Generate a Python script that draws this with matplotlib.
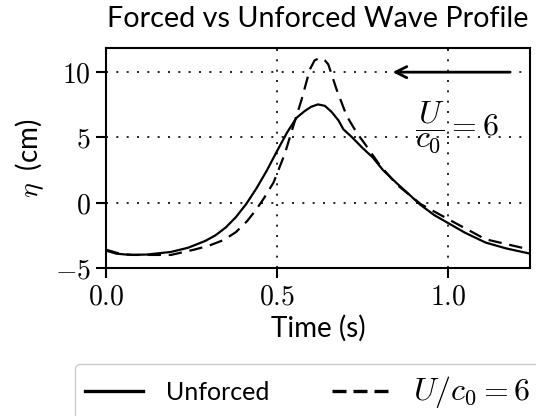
import matplotlib
matplotlib.use('Agg')
import matplotlib.pyplot as plt
from matplotlib.ticker import FixedLocator, FuncFormatter

# Unforced wave profile
t_unforced = [0.00, 0.03, 0.07, 0.12, 0.19, 0.24, 0.29, 0.32, 0.35, 0.38, 0.41,
              0.44, 0.47, 0.50, 0.53, 0.557, 0.58, 0.60, 0.62, 0.64, 0.66,
              0.68, 0.694, 0.72, 0.75, 0.78, 0.81, 0.85, 0.89, 0.918, 0.96, 1.00,
              1.05, 1.11, 1.17, 1.24]
eta_unforced = [-3.67, -3.9, -4.0, -3.97, -3.77, -3.45, -2.93, -2.5, -1.9, -1.1, -0.1,
                1.1, 2.45, 3.95, 5.4, 6.5, 7.0, 7.35, 7.53, 7.42, 6.95,
                6.3, 5.63, 5.0, 4.2, 3.47, 2.5, 1.5, 0.55, -0.13, -0.95, -1.55,
                -2.3, -3.05, -3.5, -3.9]

# Forced case U/c0 = 6
t_forced = [0.00, 0.04, 0.08, 0.19, 0.257, 0.30, 0.345, 0.38, 0.413, 0.44, 0.462,
            0.49, 0.523, 0.548, 0.572, 0.596, 0.61, 0.626, 0.64, 0.65, 0.674, 0.704,
            0.733, 0.76, 0.80, 0.85, 0.92, 1.00, 1.11, 1.225, 1.24]
eta_forced = [-3.6, -3.9, -4.0, -4.0, -3.6, -3.3, -2.85, -2.25, -1.4, -0.5, 0.35,
              1.55, 3.75, 5.9, 7.9, 10.2, 10.9, 11.1, 10.9, 10.6, 8.7, 6.64,
              5.37, 4.4, 2.9, 1.4, -0.1, -1.25, -2.8, -3.5, -3.55]

x_ticks = [0.0, 0.5, 1.0]
y_ticks = [-5, 0, 5, 10]

plt.rcParams['mathtext.fontset'] = 'cm'
plt.rcParams['font.family'] = ['Lato', 'DejaVu Sans']
fs = 20

fig = plt.figure(figsize=(5.36, 4.16), dpi=100)
ax = fig.add_axes([0.1978, 0.3558, 0.791, 0.5288])

ax.plot(t_unforced, eta_unforced, color='black', lw=1.6, label='Unforced')
ax.plot(t_forced, eta_forced, color='black', lw=1.6, dashes=(6, 3.5),
        label=r'$U/c_0 = 6$')

ax.set_xlim(0, 1.24)
ax.set_ylim(-5, 11.85)
ax.xaxis.set_major_locator(FixedLocator(x_ticks))
ax.yaxis.set_major_locator(FixedLocator(y_ticks))
ax.xaxis.set_major_formatter(FuncFormatter(lambda v, p: f'${v:.1f}$'))
ax.yaxis.set_major_formatter(FuncFormatter(lambda v, p: f'${v:g}$'))
ax.tick_params(direction='out', length=7, width=1.5, labelsize=fs, pad=4)
for s in ax.spines.values():
    s.set_linewidth(1.5)
ax.grid(True, color='black', linestyle=(0, (1.2, 5)), linewidth=1.2)

ax.annotate('', xy=(0.83, 10), xytext=(1.19, 10),
            arrowprops=dict(arrowstyle='->', lw=2, color='black', mutation_scale=20))
ax.text(0.905, 5.8, r'$\dfrac{U}{c_0} = 6$', fontsize=23, va='center', ha='left')

ax.set_title('Forced vs Unforced Wave Profile', fontsize=20.7, pad=15)
ax.set_xlabel('Time (s)', fontsize=fs)
ax.set_ylabel(r'$\eta\;$ (cm)', fontsize=fs, labelpad=6)

leg = fig.legend(loc='upper left', bbox_to_anchor=(0.14, 0.125), ncol=2, fontsize=18,
                 borderaxespad=0, handlelength=2.3, handletextpad=0.95, columnspacing=2.5,
                 fancybox=True, edgecolor='#cccccc', framealpha=1)
leg.get_texts()[1].set_fontsize(23)
for line in leg.get_lines():
    line.set_linewidth(2.4)
leg.get_lines()[1].set_dashes((4.2, 2.1))

fig.savefig('out.png', dpi=100)
